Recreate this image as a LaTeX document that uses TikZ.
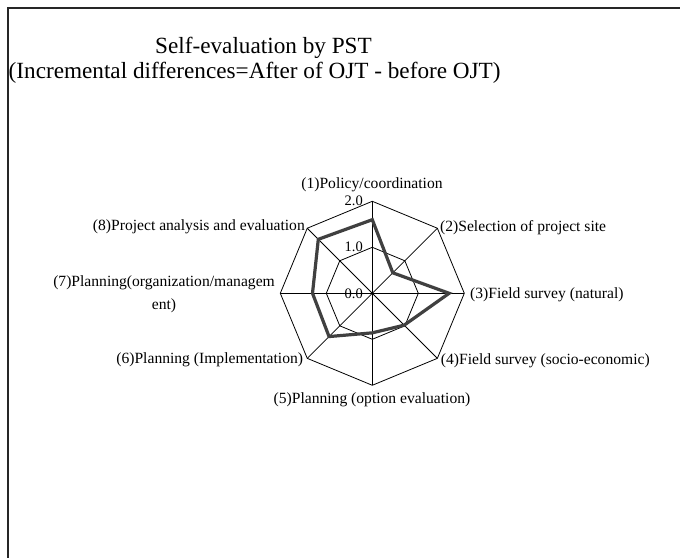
\documentclass[tikz,border=0pt]{standalone}
\usepackage{fontspec}
\setmainfont{Liberation Serif}
\usetikzlibrary{calc}
\begin{document}
\begin{tikzpicture}[x=1bp,y=1bp,
  grid/.style={draw=black,line width=0.8bp},
  series/.style={draw=black!75,line width=3.2bp,line join=miter},
  frame/.style={draw=black!85,line width=2bp},
  axislabel/.style={inner sep=0pt,font=\fontsize{15.6bp}{23bp}\selectfont},
  ticklabel/.style={inner sep=0pt,anchor=east,font=\fontsize{14.5bp}{17bp}\selectfont},
  titletext/.style={inner sep=0pt,anchor=base west,font=\fontsize{23.2bp}{28bp}\selectfont}]
\useasboundingbox (0,0) rectangle (680,558);
\fill[white] (-2,-2) rectangle (682,560);
% outer chart frame (left and top edges)
\draw[frame] (8.3,-2) -- (8.3,549.5) -- (682,549.5);

% title
\node[titletext] (t1) at (155,504.5) {Self-evaluation by PST};
\node[titletext] (t2) at (8.5,479.5) {(Incremental differences=After of OJT - before OJT)};

% radar geometry
\coordinate (O) at (372.3,264.7);
\def\R{92}
% spokes and rings
\foreach \i in {1,...,8} {
  \pgfmathsetmacro\ang{90-45*(\i-1)}
  \coordinate (v\i) at ($(O)+(\ang:\R)$);
  \coordinate (h\i) at ($(O)+(\ang:\R/2)$);
}
\draw[grid] (v1) -- (v2) -- (v3) -- (v4) -- (v5) -- (v6) -- (v7) -- (v8) -- cycle;
\draw[grid] (h1) -- (h2) -- (h3) -- (h4) -- (h5) -- (h6) -- (h7) -- (h8) -- cycle;
\foreach \i in {1,...,4} {
  \pgfmathtruncatemacro\j{\i+4}
  \draw[grid] (v\i) -- (v\j);
}

% data series
\foreach \i/\val in {1/1.60,2/0.63,3/1.67,4/0.98,5/0.86,6/1.33,7/1.30,8/1.66} {
  \pgfmathsetmacro\ang{90-45*(\i-1)}
  \coordinate (d\i) at ($(O)+(\ang:\val*\R/2)$);
}
\draw[series] (d1) -- (d2) -- (d3) -- (d4) -- (d5) -- (d6) -- (d7) -- (d8) -- cycle;

% scale values
\node[ticklabel] (s2) at (363,357.3) {2.0};
\node[ticklabel] (s1) at (363,311.0) {1.0};
\node[ticklabel] (s0) at (363,264.7) {0.0};

% category labels
\node[axislabel,anchor=center] (c1) at (372,373) {(1)Policy/coordination};
\node[axislabel,anchor=west] (c2) at (440,330.3) {(2)Selection of project site};
\node[axislabel,anchor=west] (c3) at (470,263) {(3)Field survey (natural)};
\node[axislabel,anchor=west] (c4) at (440.7,197) {(4)Field survey (socio-economic)};
\node[axislabel,anchor=center] (c5) at (372,158) {(5)Planning (option evaluation)};
\node[axislabel,anchor=east] (c6) at (303.3,198) {(6)Planning (Implementation)};
\node[axislabel,anchor=east,align=center] (c7) at (275,263.3) {(7)Planning(organization/managem\\ent)};
\node[axislabel,anchor=east] (c8) at (305,331.3) {(8)Project analysis and evaluation};
\end{tikzpicture}
\end{document}
